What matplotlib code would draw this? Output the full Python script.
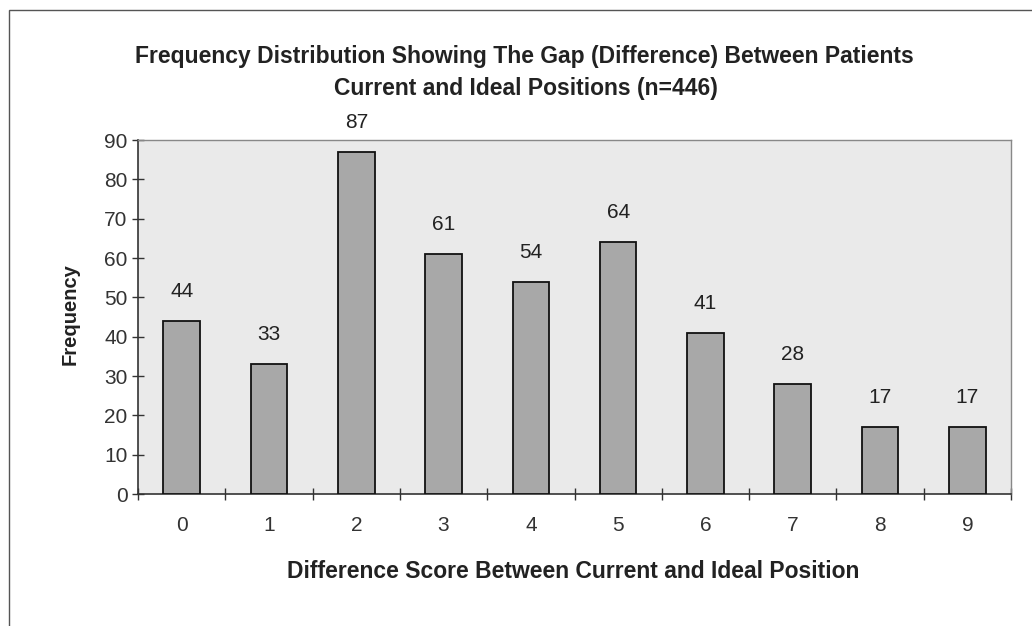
import matplotlib
matplotlib.use('Agg')
import matplotlib.pyplot as plt
from matplotlib.patches import Rectangle

plt.rcParams['font.family'] = ['Liberation Sans', 'DejaVu Sans']

# gap between current and ideal position, counts per score
scores = [0, 1, 2, 3, 4, 5, 6, 7, 8, 9]
freq = [44, 33, 87, 61, 54, 64, 41, 28, 17, 17]
y_ticks = list(range(0, 100, 10))

TITLE_1 = 'Frequency Distribution Showing The Gap (Difference) Between Patients'
TITLE_2 = 'Current and Ideal Positions (n=446)'
XLABEL = 'Difference Score Between Current and Ideal Position'
YLABEL = 'Frequency'

W, H = 1032, 626
fig = plt.figure(figsize=(W / 100, H / 100), dpi=100)
fig.patch.set_facecolor('white')

def fx(px):
    return px / W

def fy(py):
    return 1 - py / H

# outer chart frame (only top and left edges fall inside the image)
fig.add_artist(Rectangle((fx(9), -0.05), 1.1, fy(10) + 0.05, transform=fig.transFigure,
                         fill=False, edgecolor='#555555', linewidth=1.0))

ax = fig.add_axes([fx(138), fy(494), fx(1011 - 138), (494 - 140) / H])
ax.set_facecolor('#eaeaea')

ax.bar(scores, freq, width=0.42, color='#a8a8a8', edgecolor='#111111', linewidth=1.3, zorder=3)

for x, v in zip(scores, freq):
    ax.annotate(str(v), (x, v), xytext=(0, 17.3), textcoords='offset points',
                ha='center', va='baseline', fontsize=15, color='#222222')

ax.set_xlim(-0.5, 9.5)
ax.set_ylim(0, 90)
ax.set_yticks(y_ticks)
ax.tick_params(axis='y', direction='inout', length=9, width=1, labelsize=15,
               colors='#333333', pad=3)

# categories labelled at centres, tick marks at the boundaries
ax.set_xticks(scores)
ax.set_xticklabels([str(s) for s in scores])
ax.tick_params(axis='x', which='major', length=0, labelsize=15, colors='#333333', pad=16)
ax.set_xticks([s - 0.5 for s in scores] + [9.5], minor=True)
ax.tick_params(axis='x', which='minor', direction='inout', length=9, width=1, color='#333333')

for side in ['top', 'right']:
    ax.spines[side].set_color('#888888')
    ax.spines[side].set_linewidth(1.0)
for side in ['left', 'bottom']:
    ax.spines[side].set_color('#333333')
    ax.spines[side].set_linewidth(1.2)

txt = dict(fontweight='bold', color='#222222', ha='center')
fig.text(fx(524), fy(63), TITLE_1, fontsize=16.5, va='baseline', **txt)
fig.text(fx(526), fy(95), TITLE_2, fontsize=16.5, va='baseline', **txt)
fig.text(fx(573), fy(578), XLABEL, fontsize=16.5, va='baseline', **txt)
fig.text(fx(70), fy(314), YLABEL, fontsize=14.5, va='center', rotation=90, **txt)

fig.savefig('out.png', dpi=100, facecolor='white')
